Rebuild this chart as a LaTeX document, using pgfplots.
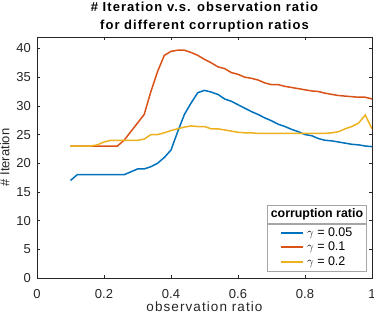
\documentclass[border=0pt]{standalone}
\usepackage{pgfplots}
\pgfplotsset{compat=1.18}
\usepackage{fontspec}
\setmainfont{Liberation Sans}
\newfontfamily\spaced[LetterSpace=8]{Liberation Sans}
\definecolor{mblue}{rgb}{0,0.447,0.741}
\definecolor{mred}{rgb}{0.85,0.325,0.098}
\definecolor{myel}{rgb}{0.929,0.694,0.125}
\definecolor{axgray}{rgb}{0.15,0.15,0.15}
\pgfplotstableread{
x y
0.10 17
0.12 18
0.14 18
0.16 18
0.18 18
0.20 18
0.22 18
0.24 18
0.26 18
0.28 18.5
0.30 19
0.32 19
0.34 19.4
0.36 20
0.38 21
0.40 22.3
0.42 25.5
0.44 28.5
0.46 30.5
0.48 32.3
0.50 32.7
0.52 32.4
0.54 32.0
0.56 31.2
0.58 30.8
0.60 30.2
0.62 29.6
0.64 29.0
0.66 28.5
0.68 27.9
0.70 27.4
0.72 26.8
0.74 26.4
0.76 25.9
0.78 25.5
0.80 25.0
0.82 24.8
0.84 24.3
0.86 24.0
0.88 23.9
0.90 23.7
0.92 23.5
0.94 23.3
0.96 23.2
0.98 23.0
1.00 22.9
}\blue
\pgfplotstableread{
x y
0.10 23
0.12 23
0.14 23
0.16 23
0.18 23
0.20 23
0.22 23
0.24 23
0.26 24
0.28 25.5
0.30 27
0.32 28.5
0.34 32.5
0.36 36
0.38 38.8
0.40 39.5
0.42 39.7
0.44 39.7
0.46 39.3
0.48 38.8
0.50 38.1
0.52 37.5
0.54 36.8
0.56 36.5
0.58 35.8
0.60 35.5
0.62 35.0
0.64 34.8
0.66 34.5
0.68 34.0
0.70 33.7
0.72 33.7
0.74 33.4
0.76 33.2
0.78 33.0
0.80 32.8
0.82 32.6
0.84 32.5
0.86 32.2
0.88 32.0
0.90 31.8
0.92 31.7
0.94 31.6
0.96 31.5
0.98 31.5
1.00 31.2
}\red
\pgfplotstableread{
x y
0.10 23
0.12 23
0.14 23
0.16 23
0.18 23.2
0.20 23.7
0.22 24
0.24 24
0.26 24
0.28 24
0.30 24
0.32 24.2
0.34 25
0.36 25
0.38 25.3
0.40 25.7
0.42 26
0.44 26.3
0.46 26.5
0.48 26.4
0.50 26.4
0.52 26.0
0.54 26.0
0.56 25.8
0.58 25.6
0.60 25.4
0.62 25.3
0.64 25.3
0.66 25.2
0.68 25.2
0.70 25.2
0.72 25.2
0.74 25.2
0.76 25.2
0.78 25.2
0.80 25.2
0.82 25.2
0.84 25.2
0.86 25.2
0.88 25.3
0.90 25.5
0.92 26.0
0.94 26.4
0.96 27.0
0.98 28.4
1.00 26.0
}\yel
\begin{document}
\begin{tikzpicture}
\useasboundingbox (-37bp,-38bp) rectangle (337bp,278bp);
\begin{axis}[
  at={(0,0)}, anchor=south west,
  scale only axis, width=335bp, height=241bp,
  xmin=0, xmax=1, ymin=0, ymax=42,
  xtick={0,0.2,0.4,0.6,0.8,1},
  xticklabels={0,0.2,0.4,0.6,0.8,1},
  ytick={0,5,10,15,20,25,30,35,40},
  tick align=inside,
  tick pos=both,
  major tick length=3.3bp,
  axis line style={axgray, line width=0.5bp},
  tick style={axgray, line width=0.5bp},
  ticklabel style={font=\fontsize{13bp}{15bp}\selectfont, text=axgray},
  xticklabel style={anchor=base, yshift=-20bp},
  yticklabel style={anchor=east, xshift=-2.7bp},
  /pgf/number format/assume math mode=true,
  xlabel={observation ratio},
  ylabel={\# Iteration},
  xlabel style={font=\spaced\fontsize{13.5bp}{15bp}\selectfont, text=axgray,
    at={(axis description cs:0.5,0)}, anchor=base, yshift=-33bp},
  ylabel style={font=\fontsize{13bp}{15bp}\selectfont, text=axgray},
  title={\# Iteration v.s. observation ratio\\for different corruption ratios},
  title style={font=\spaced\bfseries\fontsize{13bp}{17.7bp}\selectfont, align=center,
    at={(axis description cs:0.5,1)}, anchor=south, inner sep=0pt, yshift=-1bp},
  legend style={name=leg, at={(rel axis cs:0.984,0.029)}, anchor=south east,
    draw=gray!70, line width=0.5bp, font=\fontsize{12.5bp}{14bp}\selectfont,
    inner xsep=13bp, inner ysep=2.25bp, row sep=1bp, column sep=2bp,
    nodes={inner sep=1bp, text height=9bp, text depth=2.5bp}},
  legend cell align=left,
  legend image code/.code={\draw[#1, line width=1.6bp] (0bp,0bp) -- (22bp,0bp);},
  every axis plot/.append style={line width=1.5bp},
]
\addplot[mblue] table[x=x,y=y] {\blue};
\addplot[mred] table[x=x,y=y] {\red};
\addplot[myel] table[x=x,y=y] {\yel};
\addlegendentry{$\gamma$ = 0.05}
\addlegendentry{$\gamma$ = 0.1}
\addlegendentry{$\gamma$ = 0.2}
\end{axis}
\draw[gray!70, line width=0.5bp, fill=white] (leg.north west) rectangle ([yshift=18bp]leg.north east);
\node[font=\bfseries\fontsize{12.4bp}{14bp}\selectfont, anchor=center] at ([yshift=9bp]leg.north) {corruption ratio};
\end{tikzpicture}
\end{document}
